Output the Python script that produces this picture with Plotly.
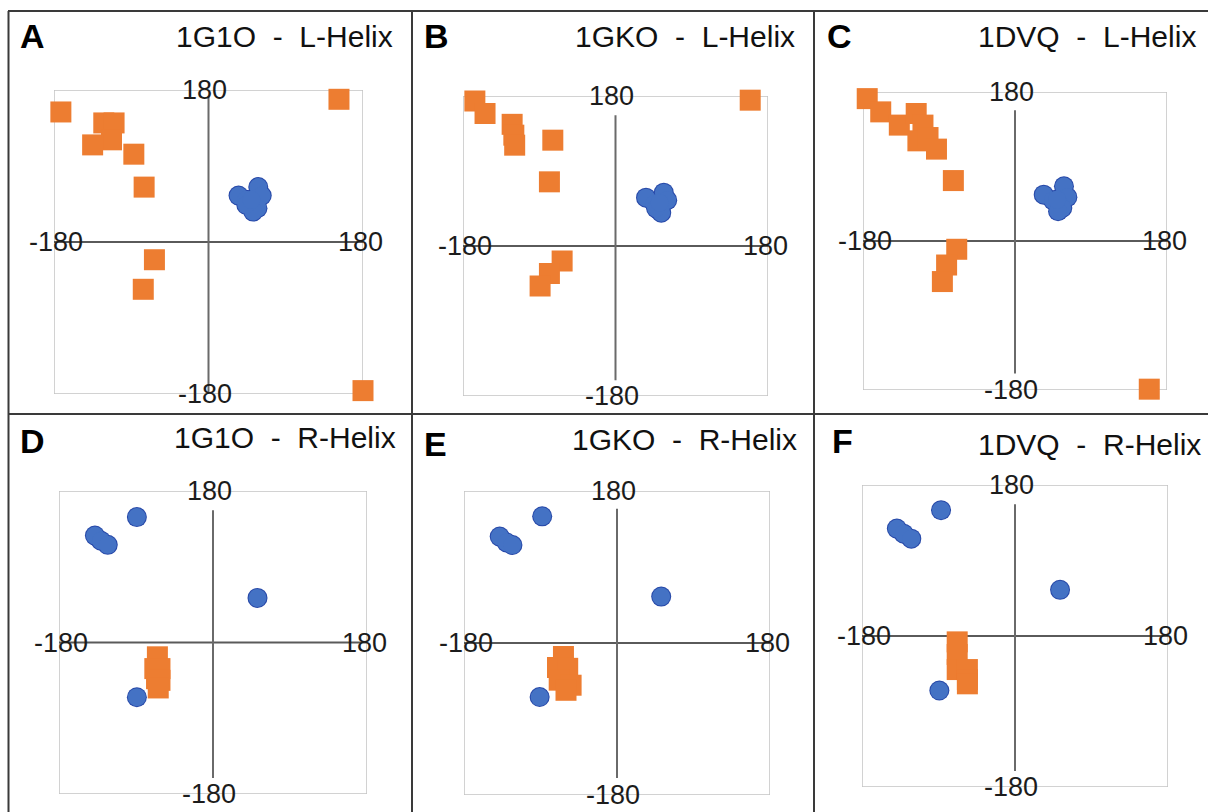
import plotly.graph_objects as go

W, H = 1208, 812

# ---------------- data (phi, psi in degrees) ----------------
panel_letters = ["A", "B", "C", "D", "E", "F"]
panel_titles = ["1G1O  -  L-Helix", "1GKO  -  L-Helix", "1DVQ  -  L-Helix",
                "1G1O  -  R-Helix", "1GKO  -  R-Helix", "1DVQ  -  R-Helix"]
tick_max = "180"
tick_min = "-180"

A_orange_x = [-172, -122, -110, -113, -135, -87, -75, -63, -76, 152, 180]
A_orange_y = [154, 141, 141, 121, 115, 104, 65, -21, -56, 169, -176]
A_blue_x = [35, 44, 58, 62, 57, 52, 44, 50]
A_blue_y = [55, 50, 65, 55, 40, 36, 44, 50]

B_orange_x = [-166, -154, -122, -120, -119, -74, -78, -63, -78, -89, 159]
B_orange_y = [174, 159, 146, 133, 121, 127, 77, -18, -33, -48, 175]
B_blue_x = [36, 46, 57, 61, 54, 48, 52]
B_blue_y = [58, 51, 64, 55, 40, 45, 52]

C_orange_x = [-175, -159, -137, -117, -109, -115, -103, -93, -73, -69, -81, -86, 159]
C_orange_y = [172, 156, 140, 154, 140, 121, 125, 111, 73, -10, -29, -49, -179]
C_blue_x = [34, 45, 58, 62, 56, 51, 50]
C_blue_y = [56, 49, 66, 53, 40, 36, 50]

D_orange_x = [-65, -68, -62, -66, -62, -64]
D_orange_y = [-17, -31, -31, -43, -45, -54]
D_blue_x = [-89, -138, -131, -123, 52, -89]
D_blue_y = [149, 127, 121, 116, 53, -65]

E_orange_x = [-63, -70, -58, -68, -54, -60]
E_orange_y = [-16, -29, -30, -44, -50, -56]
E_blue_x = [-88, -138, -130, -123, 52, -91]
E_blue_y = [150, 126, 119, 116, 55, -64]

F_orange_x = [-68, -68, -68, -56, -56, -56]
F_orange_y = [-7, -22, -40, -40, -52, -57]
F_blue_x = [-87, -139, -131, -122, 53, -89]
F_blue_y = [150, 128, 122, 116, 55, -65]

orange = [(A_orange_x, A_orange_y), (B_orange_x, B_orange_y), (C_orange_x, C_orange_y),
          (D_orange_x, D_orange_y), (E_orange_x, E_orange_y), (F_orange_x, F_orange_y)]
blue = [(A_blue_x, A_blue_y), (B_blue_x, B_blue_y), (C_blue_x, C_blue_y),
        (D_blue_x, D_blue_y), (E_blue_x, E_blue_y), (F_blue_x, F_blue_y)]

# ---------------- layout geometry (pixels) ----------------
# plot boxes: left, right, top, bottom
boxes = [(54, 363, 90, 394), (463, 768, 96, 396), (863, 1167, 92, 390),
         (59, 367, 491, 794), (464, 770, 491, 795), (862, 1168, 485, 787)]
# vertical axis line extent (data units)
vline = [(-179, 172), (-161, 157), (-160, 158), (-161, 157), (-160, 159), (-161, 157)]
letter_pos = [(18, 36), (422, 36), (825, 36), (18, 441), (422, 444), (830, 441)]
title_pos = [(395, 37), (797, 37), (1198, 37), (398, 437), (799, 439), (1203, 444)]

def px(x):
    return x / W

def py(y):
    return 1 - y / H

fig = go.Figure()
layout = dict(width=W, height=H, margin=dict(l=0, r=0, t=0, b=0),
              paper_bgcolor="white", plot_bgcolor="white", showlegend=False)
shapes = []
annotations = []

ORANGE = "#ED7D31"
BLUE = "#4472C4"
BLUE_EDGE = "#2748a8"
TICKFONT = dict(family="Liberation Sans, Arial, sans-serif", size=27, color="#1c1c1c")

for i in range(6):
    n = "" if i == 0 else str(i + 1)
    xa, ya = "x" + n, "y" + n
    l, r, t, b = boxes[i]
    layout["xaxis" + n] = dict(domain=[px(l), px(r)], range=[-180, 180], anchor=ya,
                               showgrid=False, zeroline=False, showticklabels=False,
                               showline=False, ticks="", fixedrange=True)
    layout["yaxis" + n] = dict(domain=[py(b), py(t)], range=[-180, 180], anchor=xa,
                               showgrid=False, zeroline=False, showticklabels=False,
                               showline=False, ticks="", fixedrange=True)
    # plot box
    shapes.append(dict(type="rect", xref=xa, yref=ya, x0=-180, x1=180, y0=-180, y1=180,
                       line=dict(color="#c4c4c4", width=1.5), layer="below"))
    # axes crossing
    shapes.append(dict(type="line", xref=xa, yref=ya, x0=-180, x1=180, y0=0, y1=0,
                       line=dict(color="#5a5a5a", width=2), layer="below"))
    shapes.append(dict(type="line", xref=xa, yref=ya, x0=0, x1=0,
                       y0=vline[i][0], y1=vline[i][1],
                       line=dict(color="#6a6a6a", width=2), layer="below"))
    # tick labels at the axis ends
    for (x, y, txt, xs) in [(0, 180, tick_max, -4), (0, -180, tick_min, -4),
                            (-180, 0, tick_min, 2), (180, 0, tick_max, -3)]:
        annotations.append(dict(xref=xa, yref=ya, x=x, y=y, text=txt, showarrow=False,
                                xanchor="center", yanchor="middle", xshift=xs,
                                font=TICKFONT))
    # data
    ox, oy = orange[i]
    fig.add_trace(go.Scatter(x=ox, y=oy, xaxis=xa, yaxis=ya, mode="markers",
                             cliponaxis=False,
                             marker=dict(symbol="square", size=21, color=ORANGE,
                                         line=dict(width=0))))
    bx, by = blue[i]
    # outline layer then fill layer, so overlapping circles merge into one blob
    fig.add_trace(go.Scatter(x=bx, y=by, xaxis=xa, yaxis=ya, mode="markers",
                             cliponaxis=False,
                             marker=dict(symbol="circle", size=20, color=BLUE_EDGE,
                                         line=dict(width=0))))
    fig.add_trace(go.Scatter(x=bx, y=by, xaxis=xa, yaxis=ya, mode="markers",
                             cliponaxis=False,
                             marker=dict(symbol="circle", size=18, color=BLUE,
                                         line=dict(width=0))))
    # panel letter and title
    lx, ly = letter_pos[i]
    annotations.append(dict(xref="paper", yref="paper", x=px(lx), y=py(ly),
                            text="<b>" + panel_letters[i] + "</b>", showarrow=False,
                            xanchor="left", yanchor="middle",
                            font=dict(family="Liberation Sans, Arial, sans-serif",
                                      size=34, color="black")))
    tx, ty = title_pos[i]
    annotations.append(dict(xref="paper", yref="paper", x=px(tx), y=py(ty),
                            text=panel_titles[i].replace(" ", "\u00a0"), showarrow=False,
                            xanchor="right", yanchor="middle",
                            font=dict(family="Liberation Sans, Arial, sans-serif",
                                      size=30, color="#111111")))

# panel frame lines
FRAME = dict(color="#3a3a3a", width=2)
for (x0, y0, x1, y1) in [(8, 11, 1208, 11), (8.5, 11, 8.5, 812), (412, 11, 412, 812),
                         (814, 11, 814, 812), (8, 414, 1208, 414)]:
    shapes.append(dict(type="line", xref="paper", yref="paper",
                       x0=px(x0), x1=px(x1), y0=py(y0), y1=py(y1), line=FRAME))

layout["shapes"] = shapes
layout["annotations"] = annotations
fig.update_layout(**layout)
fig.write_html("out.html")
